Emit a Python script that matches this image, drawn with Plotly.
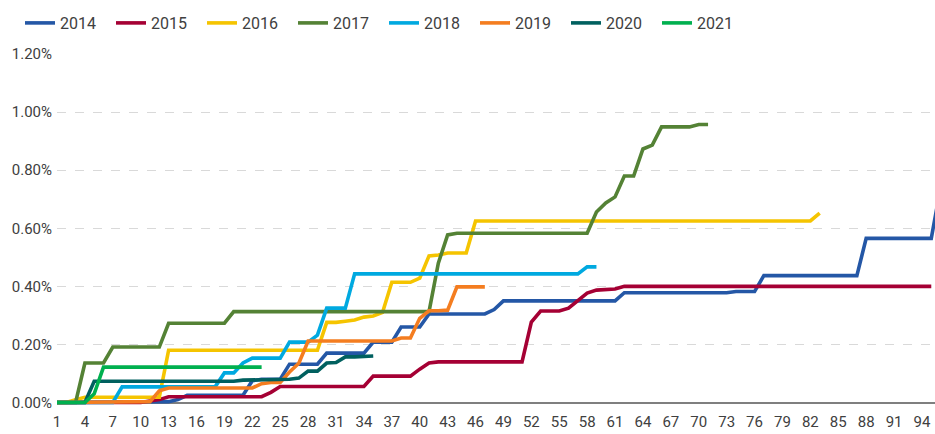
import plotly.graph_objects as go

years = ["2014", "2015", "2016", "2017", "2018", "2019", "2020", "2021"]
colors = ["#2457A6", "#A50034", "#F5C400", "#548235", "#00A9E0", "#F47D20", "#00605F", "#00B04F"]

# cumulative values in percent, one value per period (1, 2, 3, ...)
s2014 = [0, 0, 0, 0, 0, 0, 0, 0, 0, 0, 0, 0, 0.003, 0.01,
         0.025, 0.025, 0.025, 0.025, 0.025, 0.025, 0.025, 0.075, 0.08, 0.08, 0.08,
         0.132, 0.132, 0.132, 0.132, 0.17, 0.17, 0.17, 0.17, 0.17,
         0.208, 0.208, 0.208, 0.26, 0.26, 0.26,
         0.305, 0.305, 0.305, 0.305, 0.305, 0.305, 0.305, 0.32,
         0.35, 0.35, 0.35, 0.35, 0.35, 0.35, 0.35, 0.35, 0.35, 0.35, 0.35, 0.35, 0.35,
         0.378, 0.378, 0.378, 0.378, 0.378, 0.378, 0.378, 0.378, 0.378, 0.378, 0.378, 0.378,
         0.382, 0.382, 0.382,
         0.437, 0.437, 0.437, 0.437, 0.437, 0.437, 0.437, 0.437, 0.437, 0.437, 0.437,
         0.565, 0.565, 0.565, 0.565, 0.565, 0.565, 0.565, 0.565, 0.74]
s2015 = [0, 0, 0, 0, 0, 0, 0, 0, 0, 0, 0.005, 0.01,
         0.02, 0.02, 0.02, 0.02, 0.02, 0.02, 0.02, 0.02, 0.02, 0.02, 0.02, 0.035,
         0.055, 0.055, 0.055, 0.055, 0.055, 0.055, 0.055, 0.055, 0.055, 0.055,
         0.091, 0.091, 0.091, 0.091, 0.091, 0.115, 0.136,
         0.14, 0.14, 0.14, 0.14, 0.14, 0.14, 0.14, 0.14, 0.14, 0.14,
         0.277, 0.315, 0.315, 0.315, 0.325, 0.353, 0.377, 0.387, 0.39, 0.391,
         0.40, 0.40, 0.40, 0.40, 0.40, 0.40, 0.40, 0.40, 0.40, 0.40, 0.40, 0.40,
         0.40, 0.40, 0.40, 0.40, 0.40, 0.40, 0.40, 0.40, 0.40, 0.40, 0.40, 0.40,
         0.40, 0.40, 0.40, 0.40, 0.40, 0.40, 0.40, 0.40, 0.40, 0.40]
s2016 = [0, 0, 0.01, 0.018, 0.018, 0.018, 0.018, 0.018, 0.018, 0.018, 0.018, 0.018,
         0.18, 0.18, 0.18, 0.18, 0.18, 0.18, 0.18, 0.18, 0.18, 0.18, 0.18, 0.18,
         0.18, 0.18, 0.18, 0.18, 0.18,
         0.276, 0.276, 0.28, 0.284, 0.294, 0.298, 0.31, 0.414, 0.414, 0.414, 0.428,
         0.505, 0.508, 0.515, 0.515, 0.515,
         0.625, 0.625, 0.625, 0.625, 0.625, 0.625, 0.625, 0.625, 0.625, 0.625,
         0.625, 0.625, 0.625, 0.625, 0.625, 0.625, 0.625, 0.625, 0.625, 0.625,
         0.625, 0.625, 0.625, 0.625, 0.625, 0.625, 0.625, 0.625, 0.625, 0.625,
         0.625, 0.625, 0.625, 0.625, 0.625, 0.625, 0.625, 0.652]
s2017 = [0, 0, 0, 0.136, 0.136, 0.136, 0.191, 0.191, 0.191, 0.191, 0.191, 0.191,
         0.273, 0.273, 0.273, 0.273, 0.273, 0.273, 0.273,
         0.313, 0.313, 0.313, 0.313, 0.313, 0.313, 0.313, 0.313, 0.313, 0.313, 0.313,
         0.313, 0.313, 0.313, 0.313, 0.313, 0.313, 0.313, 0.313, 0.313, 0.313, 0.313,
         0.48, 0.577,
         0.583, 0.583, 0.583, 0.583, 0.583, 0.583, 0.583, 0.583, 0.583, 0.583,
         0.583, 0.583, 0.583, 0.583, 0.583,
         0.656, 0.687, 0.708, 0.78, 0.78, 0.873, 0.886,
         0.949, 0.949, 0.949, 0.949, 0.957, 0.957]
s2018 = [0, 0, 0, 0, 0, 0, 0,
         0.054, 0.054, 0.054, 0.054, 0.054, 0.054, 0.054, 0.054, 0.054, 0.054, 0.054,
         0.102, 0.102, 0.136, 0.153, 0.153, 0.153, 0.153, 0.208, 0.208, 0.208, 0.232,
         0.325, 0.325, 0.325,
         0.443, 0.443, 0.443, 0.443, 0.443, 0.443, 0.443, 0.443, 0.443, 0.443,
         0.443, 0.443, 0.443, 0.443, 0.443, 0.443, 0.443, 0.443, 0.443, 0.443,
         0.443, 0.443, 0.443, 0.443, 0.443, 0.467, 0.467]
s2019 = [0, 0, 0, 0, 0, 0, 0, 0, 0, 0, 0.003, 0.04,
         0.05, 0.05, 0.05, 0.05, 0.05, 0.05, 0.05, 0.05, 0.05, 0.05,
         0.065, 0.069, 0.069, 0.105, 0.135,
         0.212, 0.212, 0.212, 0.212, 0.212, 0.212, 0.212, 0.212, 0.212, 0.212,
         0.222, 0.222, 0.29, 0.316, 0.316, 0.318, 0.398, 0.398, 0.398, 0.398]
s2020 = [0, 0, 0, 0,
         0.073, 0.073, 0.073, 0.073, 0.073, 0.073, 0.073, 0.073, 0.073, 0.073,
         0.073, 0.073, 0.073, 0.073, 0.073, 0.073,
         0.077, 0.077, 0.077, 0.077, 0.077, 0.08, 0.084, 0.108, 0.108,
         0.136, 0.138, 0.157, 0.157, 0.16, 0.16]
s2021 = [0, 0, 0, 0, 0.03,
         0.122, 0.122, 0.122, 0.122, 0.122, 0.122, 0.122, 0.122, 0.122,
         0.122, 0.122, 0.122, 0.122, 0.122, 0.122, 0.122, 0.122, 0.122]

series = [s2014, s2015, s2016, s2017, s2018, s2019, s2020, s2021]

FONT = "Roboto, Liberation Sans, sans-serif"

fig = go.Figure()
for name, vals, col in zip(years, series, colors):
    fig.add_trace(go.Scatter(
        x=list(range(1, len(vals) + 1)), y=vals, mode="lines", name=name,
        line=dict(color=col, width=3.6)))

fig.update_layout(
    width=935, height=434,
    margin=dict(l=57, r=0, t=54, b=28, autoexpand=False),
    paper_bgcolor="white", plot_bgcolor="white",
    font=dict(family=FONT, size=15, color="#404040"),
    showlegend=True,
    legend=dict(orientation="h", xref="container", yref="container",
                x=20 / 935, y=1 - 23 / 434, xanchor="left", yanchor="middle",
                entrywidth=46, entrywidthmode="pixels",
                font=dict(family=FONT, size=16, color="#404040")),
    xaxis=dict(range=[1, 95.4], tick0=1, dtick=3, showgrid=False, showline=False,
               zeroline=False, ticks="", ticklabelstandoff=5, automargin=False),
    yaxis=dict(range=[-0.012, 1.2], tick0=0, dtick=0.2, tickformat=".2f", ticksuffix="%",
               gridcolor="#D9D9D9", griddash="dash", gridwidth=1,
               zeroline=True, zerolinecolor="#7F7F7F", zerolinewidth=2,
               showline=False, ticks="", ticklabelstandoff=4, automargin=False),
)

fig.write_html("out.html",
               config={"displayModeBar": False},
               post_script="document.body.style.margin='0';document.body.style.padding='0';")
